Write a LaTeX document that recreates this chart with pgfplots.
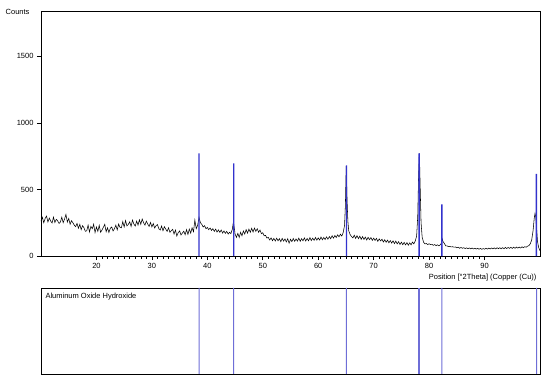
\documentclass[border=0pt]{standalone}
\usepackage{pgfplots}
\pgfplotsset{compat=1.18}
\usepackage{fontspec}
\setmainfont{Liberation Sans}
\definecolor{refblue}{RGB}{50,50,205}
\definecolor{lightblue}{RGB}{110,110,215}
\begin{document}
\begin{tikzpicture}[x=1pt,y=1pt]
\useasboundingbox (0,0) rectangle (550,381);
\begin{axis}[
  at={(41pt,125pt)}, anchor=south west,
  width=499pt, height=245pt, scale only axis,
  xmin=10, xmax=100, ymin=0, ymax=1840,
  axis line style={line width=0.9pt},
  tick pos=left, tick align=outside,
  xtick={20,30,...,90}, minor x tick num=9,
  ytick={0,500,1000,1500},
  major tick length=4pt, minor tick length=2.5pt,
  tick style={black, line width=0.6pt},
  tick label style={font=\fontsize{7.5}{8}\selectfont},
  /pgf/number format/assume math mode=true,
  /pgf/number format/1000 sep={},
  scaled ticks=false,
  clip=false,
]
\addplot[black, line width=0.55pt, no marks] coordinates {
(10.0,262)(10.25,290)(10.5,250)(10.75,282)(11.0,300)(11.25,255)(11.5,285)(11.75,262)(12.0,248)(12.25,292)(12.5,252)(12.75,275)
(13.0,265)(13.25,245)(13.5,255)(13.75,292)(14.0,250)(14.25,278)(14.5,312)(14.75,255)(15.0,282)(15.25,238)(15.5,265)(15.75,250)
(16.0,232)(16.25,220)(16.5,245)(16.75,208)(17.0,238)(17.25,198)(17.5,228)(17.75,212)(18.0,185)(18.25,190)(18.5,232)(18.75,180)
(19.0,222)(19.25,205)(19.5,238)(19.75,176)(20.0,218)(20.25,185)(20.5,230)(20.75,178)(21.0,195)(21.25,215)(21.5,238)(21.75,182)
(22.0,212)(22.25,176)(22.5,208)(22.75,218)(23.0,188)(23.25,205)(23.5,232)(23.75,196)(24.0,240)(24.25,215)(24.5,212)(24.75,258)
(25.0,218)(25.25,266)(25.5,226)(25.75,238)(26.0,256)(26.25,222)(26.5,270)(26.75,240)(27.0,225)(27.25,262)(27.5,232)(27.75,272)
(28.0,238)(28.25,278)(28.5,250)(28.75,232)(29.0,262)(29.25,240)(29.5,222)(29.75,252)(30.0,218)(30.25,244)(30.5,210)(30.75,228)
(31.0,236)(31.25,205)(31.5,195)(31.75,225)(32.0,190)(32.25,220)(32.5,202)(32.75,185)(33.0,212)(33.25,178)(33.5,190)(33.75,200)
(34.0,165)(34.25,195)(34.5,150)(34.75,176)(35.0,188)(35.25,158)(35.5,172)(35.75,186)(36.0,160)(36.25,198)(36.5,162)(36.75,202)
(37.0,172)(37.25,212)(37.5,182)(37.75,270)(38.0,205)(38.25,230)(38.5,290)(38.75,250)(39.0,238)(39.25,218)(39.5,228)(39.75,205)
(40.0,215)(40.25,198)(40.5,210)(40.75,192)(41.0,205)(41.25,185)(41.5,202)(41.75,180)(42.0,196)(42.25,178)(42.5,195)(42.75,172)
(43.0,188)(43.25,170)(43.5,185)(43.75,165)(44.0,178)(44.25,168)(44.5,200)(44.7,255)(44.9,200)(45.0,165)(45.25,140)(45.5,170)
(45.75,140)(46.0,178)(46.25,152)(46.5,188)(46.75,165)(47.0,198)(47.25,172)(47.5,202)(47.75,178)(48.0,208)(48.25,180)(48.5,210)
(48.75,185)(49.0,205)(49.25,178)(49.5,195)(49.75,168)(50.0,175)(50.25,152)(50.5,155)(50.75,135)(51.0,140)(51.25,120)(51.5,136)
(51.75,115)(52.0,132)(52.25,112)(52.5,134)(52.75,114)(53.0,130)(53.25,108)(53.5,132)(53.75,112)(54.0,128)(54.25,106)(54.5,130)
(54.75,96)(55.0,126)(55.25,108)(55.5,132)(55.75,110)(56.0,128)(56.25,112)(56.5,134)(56.75,110)(57.0,130)(57.25,114)(57.5,136)
(57.75,112)(58.0,132)(58.25,114)(58.5,138)(58.75,116)(59.0,134)(59.25,118)(59.5,139)(59.75,119)(60.0,136)(60.25,120)(60.5,142)
(60.75,122)(61.0,139)(61.25,124)(61.5,144)(61.75,126)(62.0,146)(62.25,130)(62.5,152)(62.75,134)(63.0,154)(63.25,139)(63.5,159)
(63.75,144)(64.0,164)(64.25,150)(64.5,175)(64.75,230)(64.9,380)(65.05,675)(65.2,420)(65.35,260)(65.5,190)(65.75,162)(66.0,146)
(66.25,136)(66.5,156)(66.75,132)(67.0,152)(67.25,130)(67.5,149)(67.75,125)(68.0,146)(68.25,125)(68.5,142)(68.75,120)(69.0,140)
(69.25,123)(69.5,138)(69.75,117)(70.0,134)(70.25,117)(70.5,132)(70.75,110)(71.0,129)(71.25,113)(71.5,126)(71.75,105)(72.0,122)
(72.25,103)(72.5,119)(72.75,99)(73.0,116)(73.25,97)(73.5,114)(73.75,93)(74.0,112)(74.25,91)(74.5,108)(74.75,87)(75.0,104)
(75.25,85)(75.5,102)(75.75,83)(76.0,100)(76.25,81)(76.5,99)(76.75,84)(77.0,104)(77.25,91)(77.5,112)(77.75,150)(77.95,300)
(78.1,600)(78.25,770)(78.4,500)(78.55,250)(78.75,140)(79.0,104)(79.25,91)(79.5,94)(79.75,86)(80.0,92)(80.25,86)(80.5,88)
(80.75,80)(81.0,86)(81.25,78)(81.5,84)(81.75,76)(82.0,84)(82.2,95)(82.35,130)(82.5,110)(82.75,94)(83.0,76)(83.25,76)
(83.5,70)(83.75,72)(84.0,68)(84.25,70)(84.5,66)(84.75,68)(85.0,62)(85.25,66)(85.5,58)(85.75,64)(86.0,58)(86.25,62)
(86.5,56)(86.75,61)(87.0,55)(87.25,60)(87.5,54)(87.75,60)(88.0,53)(88.25,58)(88.5,52)(88.75,58)(89.0,51)(89.25,57)
(89.5,50)(89.75,56)(90.0,51)(90.25,58)(90.5,52)(90.75,59)(91.0,53)(91.25,60)(91.5,54)(91.75,61)(92.0,53)(92.25,62)
(92.5,55)(92.75,62)(93.0,54)(93.25,63)(93.5,55)(93.75,64)(94.0,56)(94.25,64)(94.5,57)(94.75,65)(95.0,57)(95.25,66)
(95.5,58)(95.75,67)(96.0,59)(96.25,67)(96.5,60)(96.75,69)(97.0,62)(97.25,70)(97.5,66)(97.75,74)(98.0,78)(98.25,92)
(98.5,120)(98.75,190)(98.95,280)(99.1,320)(99.25,290)(99.4,200)(99.55,110)(99.75,65)(100.0,40)
};
\addplot[ybar, bar width=1.3pt, fill=refblue, draw=none] coordinates {
(38.5,770)(44.75,695)(65.1,680)(78.2,770)(82.3,388)(99.35,617)
};
\node[anchor=east, font=\fontsize{7.5}{8}\selectfont] at (rel axis cs:0,1) [xshift=-8pt,yshift=-1pt] {Counts};
\node[anchor=east, font=\fontsize{7.5}{8}\selectfont] at (rel axis cs:1,0) [yshift=-22pt] {Position [°2Theta] (Copper (Cu))};
\end{axis}
\begin{axis}[
  at={(41pt,7pt)}, anchor=south west,
  width=499pt, height=86pt, scale only axis,
  xmin=10, xmax=100, ymin=0, ymax=1,
  axis line style={line width=0.9pt},
  xtick=\empty, ytick=\empty,
  clip=false,
]
\addplot[ybar, bar width=1pt, fill=lightblue, draw=none] coordinates {
(38.5,1)(44.75,1)(65.1,1)(82.3,1)(99.4,1)
};
\addplot[ybar, bar shift=0pt, bar width=1.6pt, fill=lightblue, draw=none] coordinates {(78.2,1)};
\node[anchor=north west, font=\fontsize{7.5}{8}\selectfont] at (rel axis cs:0,1) [xshift=1pt,yshift=-2pt] {Aluminum Oxide Hydroxide};
\end{axis}
\end{tikzpicture}
\end{document}
